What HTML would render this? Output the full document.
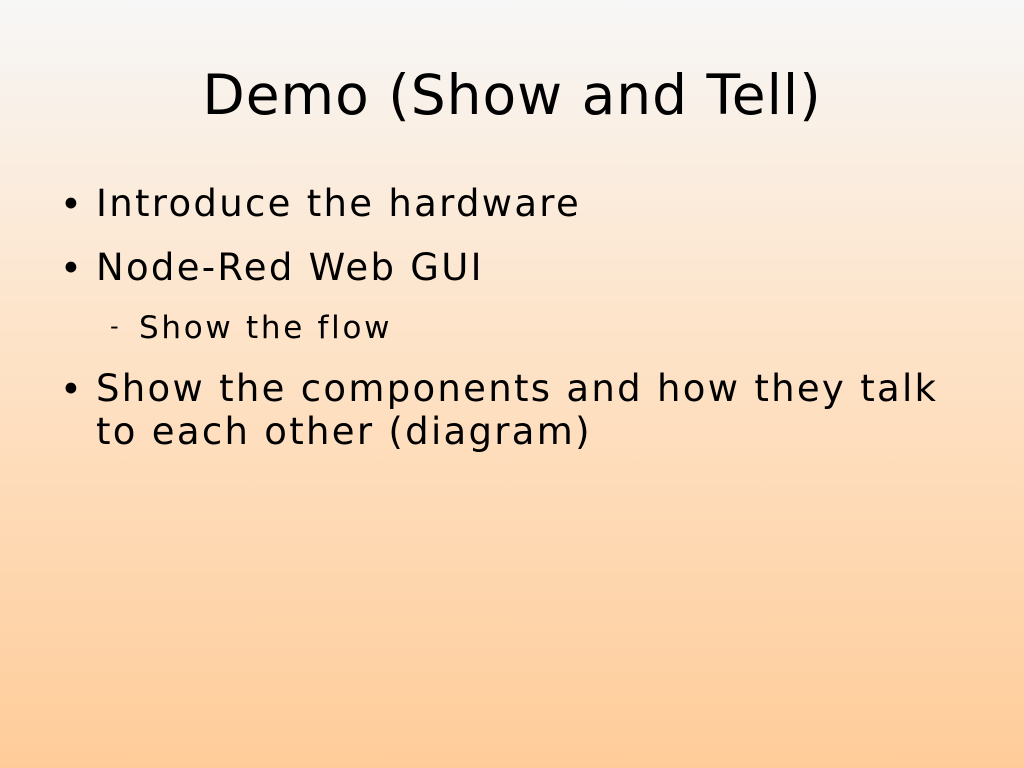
<!DOCTYPE html>
<html><head><meta charset="utf-8"><style>
html,body{margin:0;padding:0}
body{width:1024px;height:768px;position:relative;overflow:hidden;
background:linear-gradient(to bottom,#f7f7f7 0%,#fde5cc 40%,#ffcc99 100%);
font-family:"DejaVu Sans","Liberation Sans",sans-serif;color:#000}
.t{position:absolute;left:0;width:1024px;text-align:center;top:62px;font-size:55px;line-height:66px;letter-spacing:1px}
.b{position:absolute;left:96px;font-size:37px;line-height:43px;white-space:nowrap;letter-spacing:2.3px}
.d{position:absolute;left:60px;font-size:37px;top:3px}
.s{position:absolute;left:139px;font-size:31px;white-space:nowrap;letter-spacing:2.7px}
</style></head><body>
<div class="t">Demo (Show and Tell)</div>
<div class="d" style="top:183px">•</div>
<div class="b" style="top:182px">Introduce the hardware</div>
<div class="d" style="top:247px">•</div>
<div class="b" style="top:246px">Node-Red Web GUI</div>
<div style="position:absolute;left:110px;top:312px;font-size:24px">-</div>
<div class="s" style="top:310px">Show the flow</div>
<div class="d" style="top:368px">•</div>
<div class="b" style="top:367px">Show the components and how they talk<br>to each other (diagram)</div>
</body></html>
